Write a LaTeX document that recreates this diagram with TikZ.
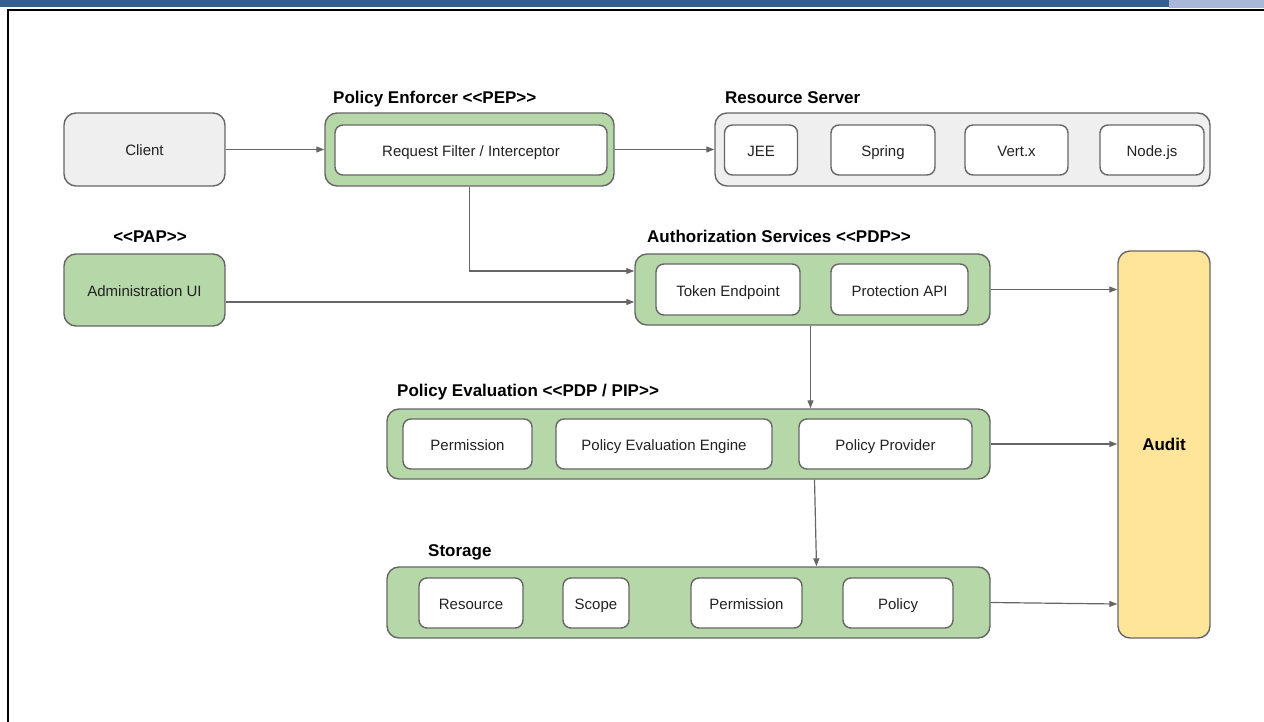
\documentclass[tikz,border=0pt]{standalone}
\usepackage{fontspec}
\setmainfont[Ligatures=NoCommon]{Liberation Sans}
\usetikzlibrary{arrows.meta}
\definecolor{barblue}{RGB}{54,95,145}
\definecolor{barlight}{RGB}{168,184,216}
\definecolor{edgegray}{RGB}{102,102,102}
\definecolor{greenfill}{RGB}{182,215,168}
\definecolor{grayfill}{RGB}{239,239,239}
\definecolor{auditfill}{RGB}{255,229,153}
\definecolor{txtgray}{RGB}{34,34,34}
\newcommand{\dlt}{<{}<}
\newcommand{\dgt}{>{}>}
\tikzset{
  box/.style={draw=edgegray, line width=1.4pt, rounded corners=9pt, inner sep=0pt,
    font=\fontsize{15}{17}\selectfont, text=txtgray, text height=16pt, text depth=3pt},
  outerbox/.style={box, rounded corners=12pt},
  greenbox/.style={outerbox, fill=greenfill},
  graybox/.style={outerbox, fill=grayfill},
  itembox/.style={box, fill=white, rounded corners=8pt},
  grouplabel/.style={font=\bfseries\fontsize{17}{19}\selectfont, inner sep=0pt, text=black,
    text height=15.7pt, text depth=3.5pt},
  arr/.style={draw=edgegray, line width=1.2pt, -{Triangle[length=8pt,width=6pt]}}
}
\begin{document}
\begin{tikzpicture}[x=1pt,y=-1pt]
\useasboundingbox (0,0) rectangle (1264,722);
% page header bar and frame
\fill[barblue] (0,0) rectangle (1169,7);
\fill[barlight] (1169,0) rectangle (1264,8);
\draw[black, line width=2.5pt] (8,722) -- (8,10) -- (1264,10);

% Client and policy enforcer
\node[graybox, minimum width=161pt, minimum height=73pt] (client) at (144.5,149.5) {Client};
\node[greenbox, minimum width=289pt, minimum height=73pt] (pep) at (469.5,149.5) {};
\node[itembox, minimum width=272pt, minimum height=50pt] (filter) at (471,150) {Request Filter / Interceptor};
\node[grouplabel, anchor=west] (peplbl) at (333,97) {Policy Enforcer \dlt PEP\dgt};

% Resource server
\node[graybox, minimum width=495pt, minimum height=73pt] (rs) at (962.5,149.5) {};
\node[itembox, minimum width=73pt, minimum height=50pt] (jee) at (761,150) {JEE};
\node[itembox, minimum width=104pt, minimum height=50pt] (spring) at (883,150) {Spring};
\node[itembox, minimum width=103pt, minimum height=50pt] (vertx) at (1016.5,150) {Vert.x};
\node[itembox, minimum width=104pt, minimum height=50pt] (nodejs) at (1152,150) {Node.js};
\node[grouplabel, anchor=west] (rslbl) at (725,97) {Resource Server};

% Administration
\node[greenbox, minimum width=161pt, minimum height=72pt] (admin) at (144.5,290) {Administration UI};
\node[grouplabel] (paplbl) at (150,236) {\dlt PAP\dgt};

% Authorization services
\node[greenbox, minimum width=355pt, minimum height=71pt] (auth) at (812.5,289.5) {};
\node[itembox, minimum width=144pt, minimum height=51pt] (token) at (728,289.5) {Token Endpoint};
\node[itembox, minimum width=137pt, minimum height=51pt] (protect) at (899.5,289.5) {Protection API};
\node[grouplabel, anchor=west] (authlbl) at (647,236) {Authorization Services \dlt PDP\dgt};

% Audit
\node[outerbox, fill=auditfill, minimum width=92pt, minimum height=387pt,
      font=\bfseries\fontsize{17}{19}\selectfont, text=black,
      text height=15.7pt, text depth=3.5pt] (audit) at (1164,444.5) {Audit};

% Policy evaluation
\node[greenbox, minimum width=603pt, minimum height=70pt] (pe) at (688.5,444) {};
\node[itembox, minimum width=129pt, minimum height=50pt] (perm1) at (467.5,444) {Permission};
\node[itembox, minimum width=216pt, minimum height=50pt] (engine) at (664,444) {Policy Evaluation Engine};
\node[itembox, minimum width=173pt, minimum height=50pt] (provider) at (885.5,444) {Policy Provider};
\node[grouplabel, anchor=west] (pelbl) at (397,390) {Policy Evaluation \dlt PDP / PIP\dgt};

% Storage
\node[greenbox, minimum width=603pt, minimum height=71pt] (st) at (688.5,602.5) {};
\node[itembox, minimum width=104pt, minimum height=50pt] (resource) at (471,603) {Resource};
\node[itembox, minimum width=66pt, minimum height=50pt] (scope) at (596,603) {Scope};
\node[itembox, minimum width=111pt, minimum height=50pt] (perm2) at (746.5,603) {Permission};
\node[itembox, minimum width=110pt, minimum height=50pt] (policy) at (898,603) {Policy};
\node[grouplabel, anchor=west] (stlbl) at (428,550) {Storage};

% Connectors
\draw[arr] (client.east) -- (pep.west);
\draw[arr] (pep.east) -- (rs.west);
\draw[arr] (pep.south) |- ([yshift=18.5pt]auth.west);
\draw[arr] ([yshift=-12pt]admin.east) -- ([yshift=-12pt]admin.east -| auth.west);
\draw[arr] (auth.east) -- (auth.east -| audit.west);
\draw[arr] ([xshift=-2pt]auth.south) -- ([xshift=-2pt]auth.south |- pe.north);
\draw[arr] (pe.east) -- (pe.east -| audit.west);
\draw[arr] ([xshift=126pt]pe.south) -- ([xshift=128pt]st.north);
\draw[arr] (st.east) -- ([yshift=-1.5pt]st.east -| audit.west);
\end{tikzpicture}
\end{document}
